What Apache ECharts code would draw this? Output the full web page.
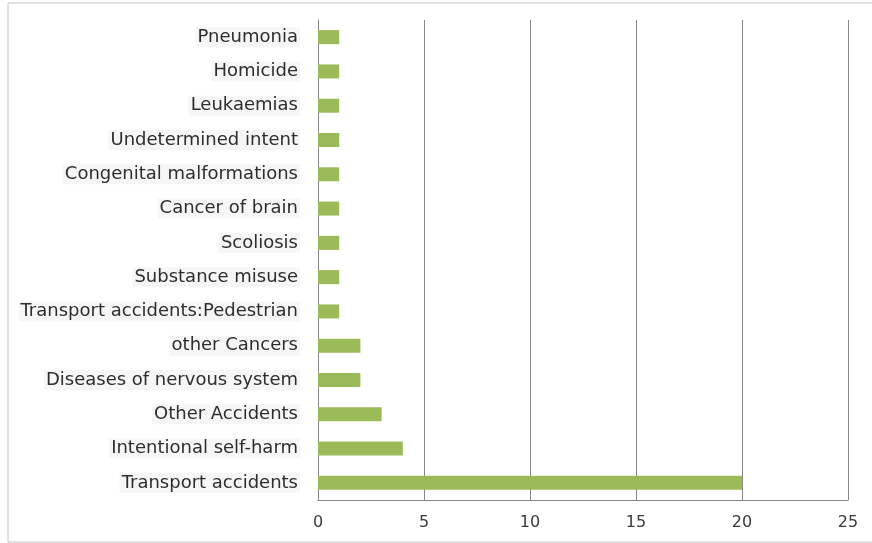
<!DOCTYPE html>
<html>
<head>
<meta charset="utf-8">
<script src="https://cdn.jsdelivr.net/npm/echarts@6/dist/echarts.min.js"></script>
<style>html,body{margin:0;padding:0;background:#fff;}#c{width:872px;height:543px;}</style>
</head>
<body>
<div id="c"></div>
<script>
const categories = ["Transport accidents","Intentional self-harm","Other Accidents","Diseases of nervous system","other Cancers","Transport accidents:Pedestrian","Substance misuse","Scoliosis","Cancer of brain","Congenital malformations","Undetermined intent","Leukaemias","Homicide","Pneumonia"];
const values = [20,4,3,2,2,1,1,1,1,1,1,1,1,1];
const xTicks = [0,5,10,15,20,25];

const chart = echarts.init(document.getElementById('c'), null, {renderer:'canvas'});
chart.setOption({
  animation:false,
  backgroundColor:'#fff',
  graphic:[{type:'rect',shape:{x:8,y:3,width:880,height:539},style:{fill:'none',stroke:'#c4c4c4',lineWidth:1},silent:true}],
  grid:{left:318,right:24,top:20,bottom:43,containLabel:false},
  xAxis:{type:'value',min:0,max:25,interval:5,
    axisLine:{show:true,lineStyle:{color:'#868686'}},
    axisTick:{show:false},
    splitLine:{show:true,lineStyle:{color:'#868686',width:1}},
    axisLabel:{color:'#3a3a3a',fontFamily:'DejaVu Sans',fontSize:16,margin:15,
      formatter:v=>xTicks.includes(v)?String(v):''}
  },
  yAxis:{type:'category',data:categories,
    axisLine:{show:true,lineStyle:{color:'#868686'}},
    axisTick:{show:false},
    axisLabel:{color:'#2e2e2e',fontFamily:'DejaVu Sans',fontSize:18,margin:18,backgroundColor:'#f6f6f6',padding:[1,2]}
  },
  series:[{type:'bar',data:values,barWidth:14,itemStyle:{color:'#9BBB59'}}]
});
</script>
</body>
</html>
